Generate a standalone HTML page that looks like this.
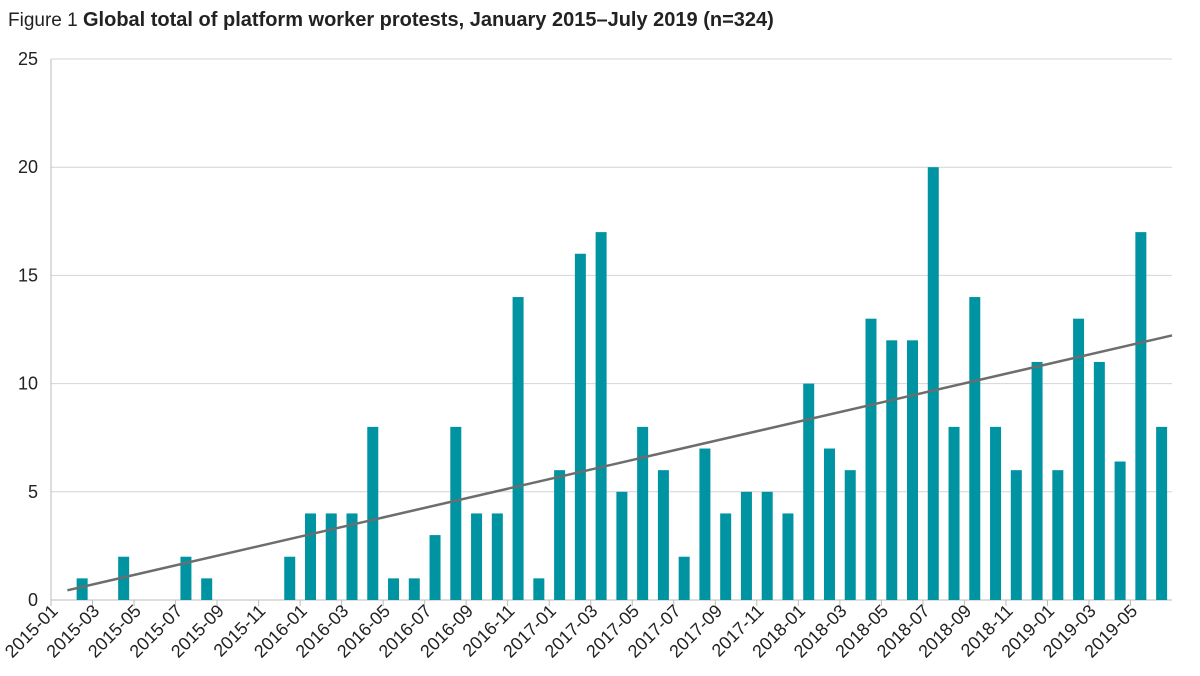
<!DOCTYPE html>
<html><head><meta charset="utf-8"><style>
body{margin:0;background:#fff;}
svg text{font-family:"Liberation Sans",sans-serif;fill:#222;}
</style></head><body>
<svg id="chart" width="1200" height="671">
<text x="8" y="26" font-size="19">Figure 1 <tspan font-weight="bold" font-size="20">Global total of platform worker protests, January 2015–July 2019 (n=324)</tspan></text>
<g id="grid"></g><g id="bars"></g><g id="axes"></g>
</svg>
<script>
const months = [];
for (let y = 2015; y <= 2019; y++) for (let m = 1; m <= 12; m++) { if (y === 2019 && m > 6) break; months.push(y + '-' + String(m).padStart(2, '0')); }
const protests2015 = [0,1,0,2,0,0,2,1,0,0,0,2];
const protests2016 = [4,4,4,8,1,1,3,8,4,4,14,1];
const protests2017 = [6,16,17,5,8,6,2,7,4,5,5,4];
const protests2018 = [10,7,6,13,12,12,20,8,14,8,6,11];
const protests2019 = [6,13,11,6.4,17,8];
const yTicks = [0,5,10,15,20,25];
const values = [].concat(protests2015, protests2016, protests2017, protests2018, protests2019);

const NS = 'http://www.w3.org/2000/svg';
const x0 = 51, x1 = 1172, yBase = 600, yTop = 59, yMax = 25;
const band = (x1 - x0) / months.length;
const xs = i => x0 + (i + 0.5) * band;
const ys = v => yBase - v / yMax * (yBase - yTop);
function mk(tag, attrs, parent) { const e = document.createElementNS(NS, tag); for (const k in attrs) e.setAttribute(k, attrs[k]); parent.appendChild(e); return e; }
const grid = document.getElementById('grid'), bars = document.getElementById('bars'), axes = document.getElementById('axes');

yTicks.forEach(t => {
  const l = mk('line', {x1: x0, x2: x1, y1: ys(t), y2: ys(t), stroke: t === 0 ? '#bbb' : '#d4d4d4', 'stroke-width': 1}, grid);
  
  
  const tx = mk('text', {x: 38, y: ys(t) + 6, 'font-size': 18, 'text-anchor': 'end'}, axes);
  tx.textContent = t;
  
  
});
const ax = mk('line', {x1: x0, x2: x0, y1: yTop, y2: yBase + 5, stroke: '#bbb'}, axes);



values.forEach((v, i) => {
  if (v <= 0) return;
  const r = mk('rect', {x: xs(i) - 5.5, y: ys(v), width: 11, height: yBase - ys(v), fill: '#0094a3'}, bars);
  
  
});

months.forEach((m, i) => {
  if (i % 2) return;
  const tx = x0 + i * band;
  mk('line', {x1: tx, x2: tx, y1: yBase, y2: yBase + 6, stroke: '#bbb'}, axes);
  const t = mk('text', {x: 0, y: 0, 'font-size': 18, 'text-anchor': 'end', transform: `translate(${tx + 8},${yBase + 12}) rotate(-45)`}, axes);
  t.textContent = m;
  
  
});

const n = values.length;
let sx = 0, sy = 0, sxy = 0, sxx = 0;
values.forEach((v, i) => { sx += i; sy += v; sxy += i * v; sxx += i * i; });
const slope = (n * sxy - sx * sy) / (n * sxx - sx * sx);
const icpt = (sy - slope * sx) / n;
const iEnd = (x1 - x0) / band - 0.5;
const tl = mk('line', {x1: xs(0) + 6, y1: ys(icpt + slope * 0.3), x2: x1, y2: ys(icpt + slope * iEnd), stroke: '#6b6e6d', 'stroke-width': 2.5}, axes);


</script>
</body></html>
